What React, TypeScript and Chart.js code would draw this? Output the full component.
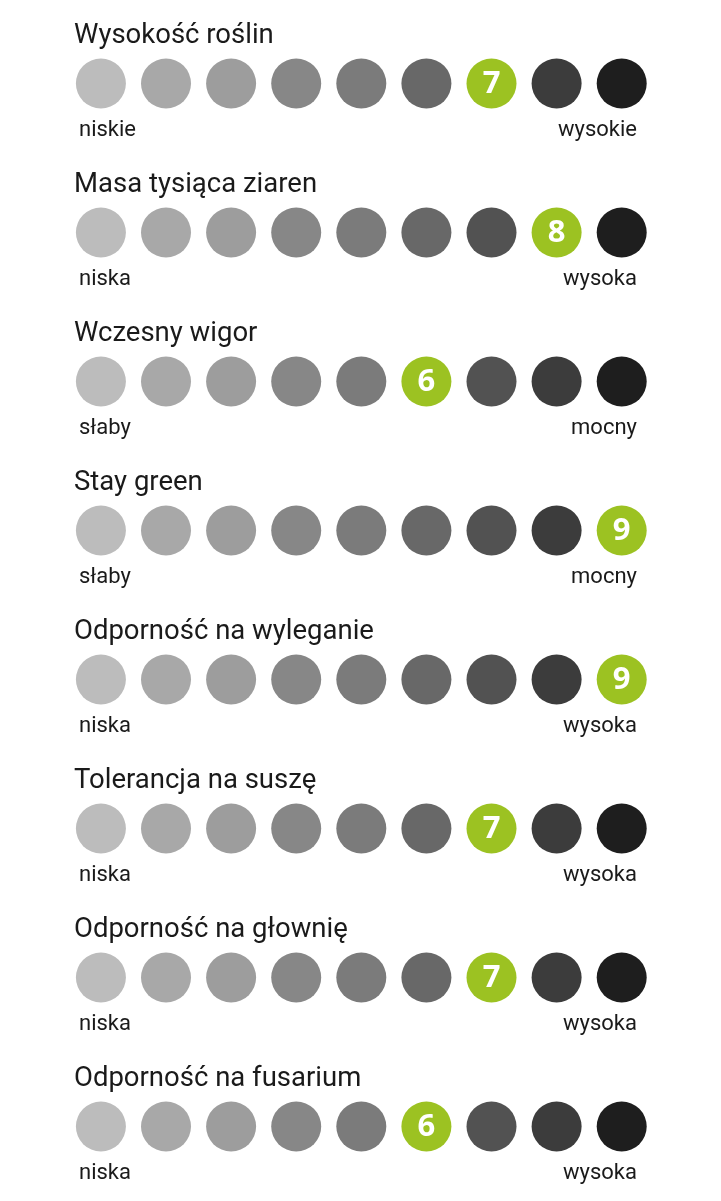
import React, { useEffect, useRef } from "react";
import { Chart, registerables } from "chart.js";

Chart.register(...registerables);

const titles = [
  "Wysokość roślin",
  "Masa tysiąca ziaren",
  "Wczesny wigor",
  "Stay green",
  "Odporność na wyleganie",
  "Tolerancja na suszę",
  "Odporność na głownię",
  "Odporność na fusarium",
];
const scores = [7, 8, 6, 9, 9, 7, 7, 6];
const lowLabels = ["niskie", "niska", "słaby", "słaby", "niska", "niska", "niska", "niska"];
const highLabels = ["wysokie", "wysoka", "mocny", "mocny", "wysoka", "wysoka", "wysoka", "wysoka"];
const scaleSteps = [1, 2, 3, 4, 5, 6, 7, 8, 9];
const grays = ["#bcbcbc", "#a8a8a8", "#9d9d9d", "#878787", "#7b7b7b", "#686868", "#525252", "#3c3c3c", "#1e1e1e"];
const green = "#9cc222";

const W = 721;
const H = 1201;
const X_MIN = -0.55;
const X_MAX = X_MIN + W / 65.1;
const Y_MIN = -0.5604;
const Y_MAX = Y_MIN + H / 149;

const ROW_CENTER = (i: number) => 83.5 + 149 * i;

export default function App() {
  const ref = useRef<HTMLCanvasElement | null>(null);

  useEffect(() => {
    if (!ref.current) return;
    const datasets = titles.map((t, row) => ({
      label: t,
      data: scaleSteps.map((s) => ({ x: s, y: row })),
      pointRadius: 25,
      pointHoverRadius: 25,
      pointBorderWidth: 0,
      borderWidth: 0,
      pointBackgroundColor: scaleSteps.map((s, k) => (s === scores[row] ? green : grays[k])),
      showLine: false,
      clip: false,
    }));

    const numberPlugin = {
      id: "numberPlugin",
      afterDatasetsDraw(chart: any) {
        const ctx = chart.ctx;
        ctx.save();
        ctx.fillStyle = "#ffffff";
        ctx.font = "bold 31px 'Open Sans'";
        ctx.textAlign = "center";
        ctx.textBaseline = "middle";
        scores.forEach((sc, row) => {
          const meta = chart.getDatasetMeta(row);
          const idx = scaleSteps.indexOf(sc);
          const el = meta.data[idx];
          if (el) ctx.fillText(String(sc), el.x, el.y + 1);
        });
        ctx.restore();
      },
    };

    const chart = new Chart(ref.current, {
      type: "scatter",
      data: { datasets } as any,
      options: {
        animation: false,
        responsive: false,
        maintainAspectRatio: false,
        layout: { padding: 0, autoPadding: false } as any,
        plugins: { legend: { display: false }, tooltip: { enabled: false } },
        events: [],
        scales: {
          x: { type: "linear", min: X_MIN, max: X_MAX, display: false },
          y: { type: "linear", min: Y_MIN, max: Y_MAX, reverse: true, display: false },
        },
      },
      plugins: [numberPlugin],
    });
    return () => chart.destroy();
  }, []);

  const titleFs = 27.5;
  const labelFs = 22;

  return (
    <div style={{ position: "absolute", left: 0, top: 0, width: W, height: H, background: "#ffffff" }}>
      <canvas ref={ref} width={W} height={H} style={{ position: "absolute", left: 0, top: 0, width: W, height: H }} />
      {titles.map((t, i) => (
        <div
          key={"t" + i}
          style={{
            position: "absolute",
            left: 74,
            top: ROW_CENTER(i) - 40.5 - 0.8415 * titleFs,
            fontFamily: "Roboto",
            fontSize: titleFs,
            lineHeight: titleFs + "px",
            color: "#1a1a1a",
            whiteSpace: "nowrap",
          }}
        >
          {t}
        </div>
      ))}
      {lowLabels.map((t, i) => (
        <div
          key={"l" + i}
          style={{
            position: "absolute",
            left: 79,
            top: ROW_CENTER(i) + 53 - 0.8415 * labelFs,
            fontFamily: "Roboto",
            fontSize: labelFs,
            lineHeight: labelFs + "px",
            color: "#1a1a1a",
            whiteSpace: "nowrap",
          }}
        >
          {t}
        </div>
      ))}
      {highLabels.map((t, i) => (
        <div
          key={"h" + i}
          style={{
            position: "absolute",
            right: W - 637,
            top: ROW_CENTER(i) + 53 - 0.8415 * labelFs,
            fontFamily: "Roboto",
            fontSize: labelFs,
            lineHeight: labelFs + "px",
            color: "#1a1a1a",
            whiteSpace: "nowrap",
            textAlign: "right",
          }}
        >
          {t}
        </div>
      ))}
    </div>
  );
}
